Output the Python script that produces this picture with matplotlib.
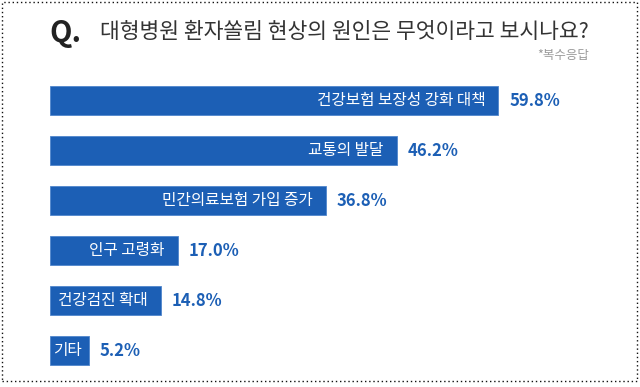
import matplotlib.pyplot as plt
from matplotlib.patches import Rectangle

plt.rcParams['font.family'] = ['Noto Sans CJK KR', 'DejaVu Sans']

# data
categories = ["건강보험 보장성 강화 대책", "교통의 발달", "민간의료보험 가입 증가",
              "인구 고령화", "건강검진 확대", "기타"]
values = [59.8, 46.2, 36.8, 17.0, 14.8, 5.2]

bar_color = '#1c5fb5'
W, H = 640, 387

fig = plt.figure(figsize=(W / 100, H / 100), dpi=100)
fig.patch.set_facecolor('white')

# dotted frame around the whole picture
fig.patches.append(Rectangle((2 / W, 1 - 381 / H), 635 / W, 379 / H,
                             transform=fig.transFigure, fill=False,
                             edgecolor='#111111', linewidth=1.0,
                             linestyle=(0, (1, 2))))

# title
fig.text(49 / W, 1 - 33 / H, "Q.", fontsize=21, fontweight='bold',
         color='#222222', va='center', ha='left')
fig.text(589 / W, 1 - 32 / H, "대형병원 환자쏠림 현상의 원인은 무엇이라고 보시나요?",
         fontsize=15.5, color='#333333', va='center', ha='right')
fig.text(589 / W, 1 - 56 / H, "*복수응답", fontsize=9, color='#9a9a9a',
         va='center', ha='right')

# bars: axis starts at x=50px, 7.5 px per percent
px_per_unit = 7.5
ax_left, ax_top = 50, 75.5
ax = fig.add_axes([ax_left / W, 1 - (ax_top + 300) / H, (W - ax_left) / W, 300 / H])
ax.set_xlim(0, (W - ax_left) / px_per_unit)
ax.set_ylim(len(values) - 0.5, -0.5)
ax.axis('off')

pos = list(range(len(values)))
ax.barh(pos, values, height=0.58, color=bar_color, edgecolor='#4f86cc', linewidth=0.6)

pad = 13 / px_per_unit
gap = 11 / px_per_unit
for i, (cat, v) in enumerate(zip(categories, values)):
    if v * px_per_unit < 60:
        # short bar: centre the label
        ax.text(v / 2 - 0.25, i, cat, ha='center', va='center', color='white', fontsize=11.3)
    else:
        ax.text(v - pad, i, cat, ha='right', va='center', color='white', fontsize=11.3)
    ax.text(v + gap, i, f"{v:.1f}%", ha='left', va='center', color=bar_color,
            fontsize=12, fontweight='bold')

fig.savefig('out.png', dpi=100)
